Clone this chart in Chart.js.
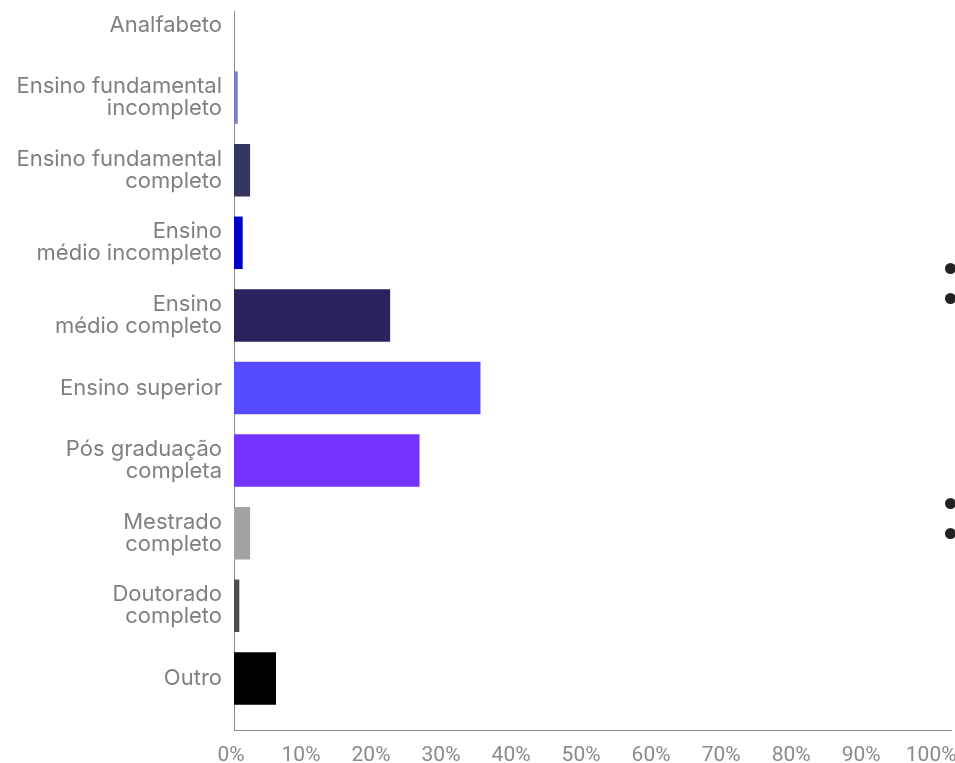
<!DOCTYPE html>
<html lang="pt-BR">
<head>
<meta charset="utf-8">
<title>Escolaridade</title>
<script src="https://cdn.jsdelivr.net/npm/chart.js@4.4.0/dist/chart.umd.min.js"></script>
<style>
  html, body { margin: 0; padding: 0; background: #fff; overflow: hidden; }
  body { width: 955px; height: 763px; position: relative; }
  #wrap { position: absolute; left: 0; top: -30px; width: 1000px; height: 796px; }
  .dot { position: absolute; width: 11px; height: 11px; border-radius: 50%; background: #222; left: 945px; }
</style>
</head>
<body>
<div id="wrap"><canvas id="chart" width="1000" height="796"></canvas></div>
<span class="dot" style="top:263px"></span>
<span class="dot" style="top:293px"></span>
<span class="dot" style="top:498px"></span>
<span class="dot" style="top:528px"></span>

<script>
// Escolaridade dos respondentes (% do total)
const categories = [
  ["Analfabeto"],
  ["Ensino fundamental", "incompleto"],
  ["Ensino fundamental", "completo"],
  ["Ensino", "médio incompleto"],
  ["Ensino", "médio completo"],
  ["Ensino superior"],
  ["Pós graduação", "completa"],
  ["Mestrado", "completo"],
  ["Doutorado", "completo"],
  ["Outro"],
];
const values = [0, 0.53, 2.3, 1.24, 22.3, 35.2, 26.5, 2.3, 0.76, 6.0];
const barColors = [
  "#6f6fc8", "#7c7cd0", "#35355f", "#0000cc", "#29245f",
  "#574bff", "#7433ff", "#a3a3a3", "#4d4d4d", "#000000",
];
const xTicks = [0, 10, 20, 30, 40, 50, 60, 70, 80, 90, 100];

const ctx = document.getElementById("chart").getContext("2d");

new Chart(ctx, {
  type: "bar",
  data: {
    datasets: [
      {
        data: values.map((v, i) => ({ x: v, y: i })),
        backgroundColor: barColors,
        borderWidth: 0,
        categoryPercentage: 1,
        barPercentage: 0.723,
      },
    ],
  },
  options: {
    indexAxis: "y",
    responsive: false,
    animation: false,
    layout: { padding: { top: 41, right: 49, bottom: 0, left: 0 } },
    plugins: {
      legend: { display: false },
      tooltip: { enabled: false },
    },
    scales: {
      x: {
        type: "linear",
        min: 0,
        max: 102.4,
        grid: { display: false, drawTicks: false },
        border: { display: true, color: "#8c8c8c", width: 1 },
        afterBuildTicks: (scale) => {
          scale.ticks = xTicks.map((v) => ({ value: v }));
        },
        afterFit: (scale) => {
          scale.height = 36;
        },
        ticks: {
          includeBounds: false,
          maxRotation: 0,
          autoSkip: false,
          padding: 13,
          labelOffset: -3,
          color: "#8a8a8a",
          font: { family: "Roboto", size: 21 },
          callback: (v) => v + "%",
        },
      },
      y: {
        type: "linear",
        offset: false,
        reverse: true,
        min: -0.193,
        max: 9.711,
        grid: { display: false, drawTicks: false, offset: false },
        border: { display: true, color: "#8c8c8c", width: 1 },
        afterBuildTicks: (scale) => {
          scale.ticks = categories.map((c, i) => ({ value: i }));
        },
        afterFit: (scale) => {
          scale.width = 234;
        },
        ticks: {
          autoSkip: false,
          padding: 12,
          color: "#808080",
          font: { family: "Inter", size: 22, lineHeight: 1.0 },
          callback: (v) => categories[v],
        },
      },
    },
  },
});
</script>
</body>
</html>
